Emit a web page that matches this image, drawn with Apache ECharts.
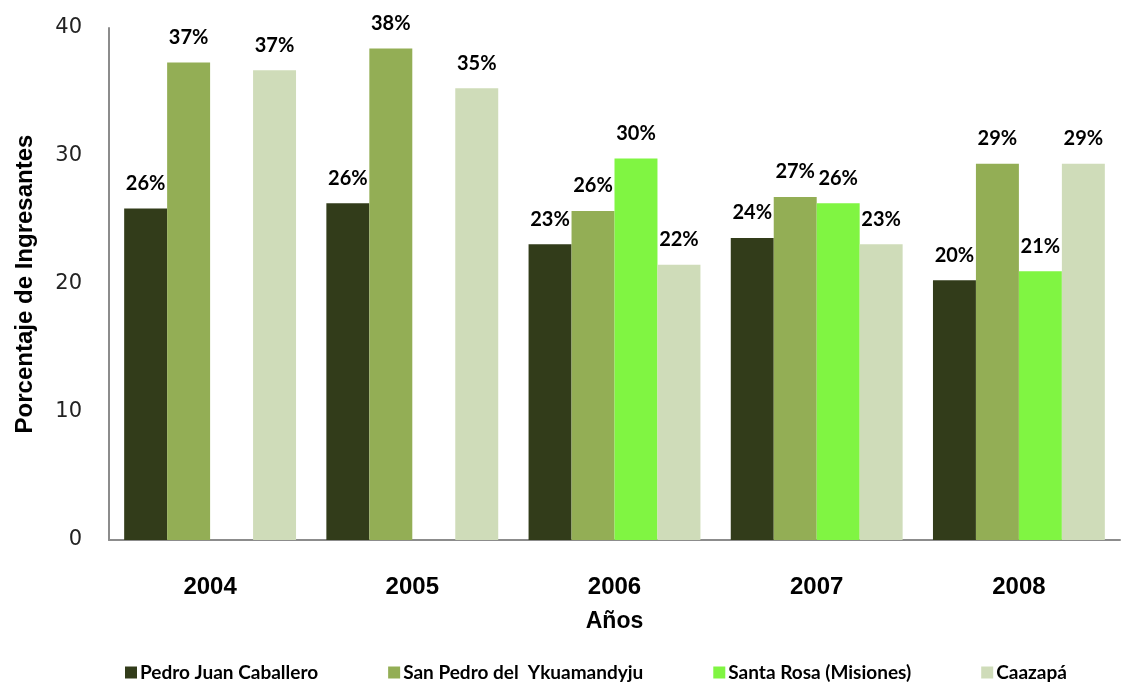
<!DOCTYPE html>
<html>
<head>
<meta charset="utf-8">
<script src="https://cdn.jsdelivr.net/npm/echarts@6/dist/echarts.min.js"></script>
<style>
  html, body { margin: 0; padding: 0; background: #fff; }
  #chart { width: 1126px; height: 683px; }
</style>
</head>
<body>
<div id="chart"></div>
<script>
  // años y series (porcentaje de ingresantes)
  var years = ['2004', '2005', '2006', '2007', '2008']
  var pedroJuan = [25.9, 26.3, 23.1, 23.6, 20.3]
  var sanPedro = [37.3, 38.4, 25.7, 26.8, 29.4]
  var santaRosa = [null, null, 29.8, 26.3, 21.0]
  var caazapa = [36.7, 35.3, 21.5, 23.1, 29.4]
  var seriesNames = ['Pedro Juan Caballero', 'San Pedro del  Ykuamandyju', 'Santa Rosa (Misiones)', 'Caazapá']
  var colorList = ['#323C1A', '#93AE55', '#80F542', '#CFDCB9']

  var chart = echarts.init(document.getElementById('chart'))

  function makeSeries(name, data, color) {
    return {
      name: name,
      type: 'bar',
      data: data,
      barGap: '0%',
      barCategoryGap: '15%',
      itemStyle: { color: color },
      label: {
        show: true,
        position: 'top',
        distance: 15,
        color: '#000',
        fontFamily: 'Lato',
        fontWeight: 'bold',
        fontSize: 20,
        formatter: function (p) {
          return Math.round(p.value) + '%'
        }
      }
    }
  }

  chart.setOption({
    animation: false,
    grid: {
      left: 109,
      right: 6,
      top: 28,
      bottom: 143
    },
    legend: {
      top: 658,
      left: 120,
      itemWidth: 12,
      itemHeight: 12,
      itemGap: 70,
      icon: 'rect',
      textStyle: {
        fontFamily: 'Lato',
        fontWeight: 'bold',
        fontSize: 19,
        color: '#000',
        padding: [0, 0, 0, -2]
      },
      data: seriesNames
    },
    xAxis: {
      type: 'category',
      data: years,
      name: 'Años',
      nameLocation: 'middle',
      nameGap: 70,
      nameTextStyle: {
        fontFamily: 'Liberation Sans',
        fontWeight: 'bold',
        fontSize: 23,
        color: '#000'
      },
      axisLine: { lineStyle: { color: '#8c8c8c', width: 2 } },
      axisTick: { show: false },
      axisLabel: {
        margin: 35,
        fontFamily: 'Liberation Sans',
        fontWeight: 'bold',
        fontSize: 24,
        color: '#000'
      }
    },
    yAxis: {
      type: 'value',
      min: 0,
      max: 40,
      interval: 10,
      name: 'Porcentaje de Ingresantes',
      nameLocation: 'middle',
      nameGap: 72,
      nameRotate: 90,
      nameTextStyle: {
        fontFamily: 'Liberation Sans',
        fontWeight: 'bold',
        fontSize: 24,
        color: '#000'
      },
      axisLine: { show: true, lineStyle: { color: '#8c8c8c', width: 2 } },
      axisTick: { show: false },
      splitLine: { show: false },
      axisLabel: {
        margin: 27,
        fontFamily: 'DejaVu Sans',
        fontSize: 21,
        color: '#222'
      }
    },
    series: [
      makeSeries(seriesNames[0], pedroJuan, colorList[0]),
      makeSeries(seriesNames[1], sanPedro, colorList[1]),
      makeSeries(seriesNames[2], santaRosa, colorList[2]),
      makeSeries(seriesNames[3], caazapa, colorList[3])
    ]
  })
</script>
</body>
</html>
